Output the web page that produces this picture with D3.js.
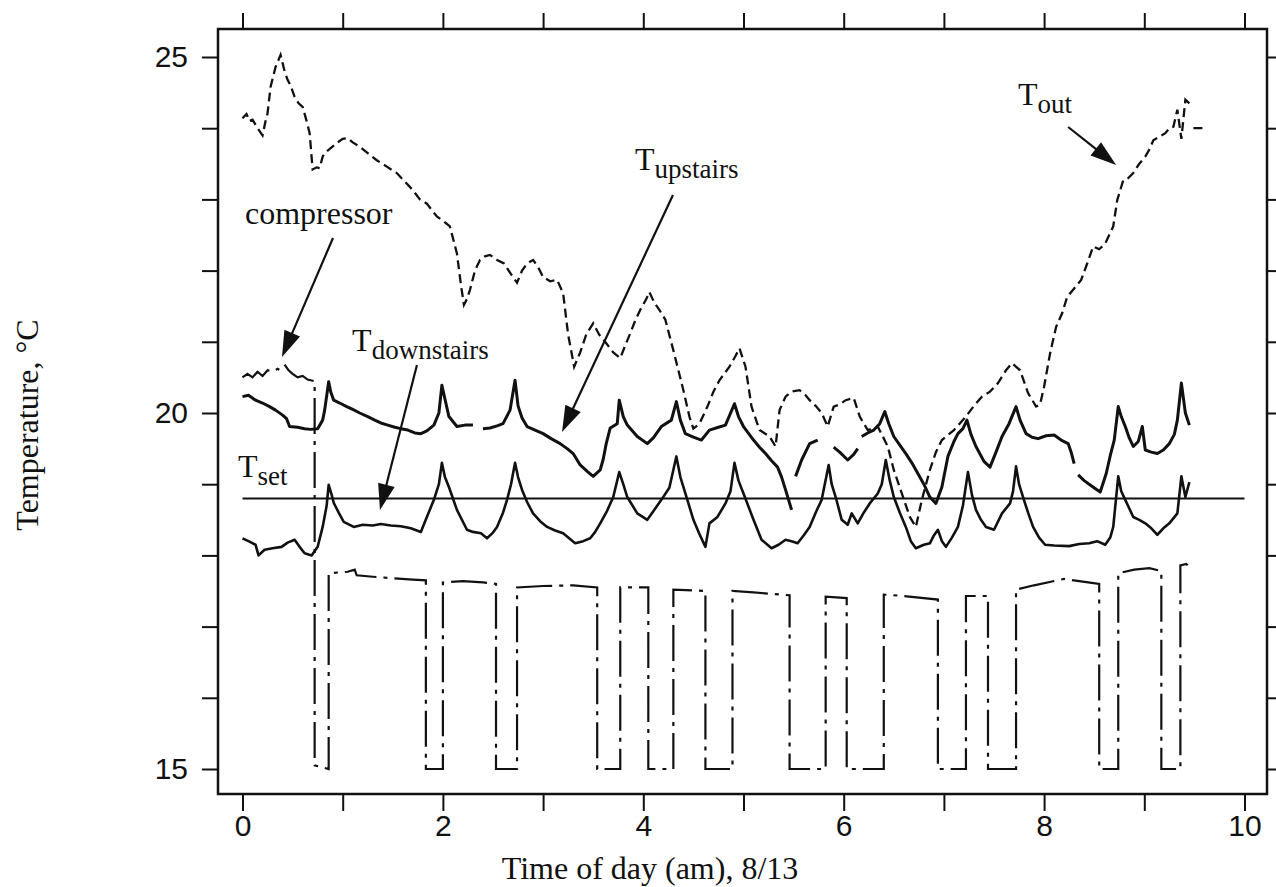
<!DOCTYPE html>
<html><head><meta charset="utf-8">
<script src="https://cdn.jsdelivr.net/npm/d3@7"></script>
<style>
html,body{margin:0;padding:0;background:#fff;}
svg{display:block;}
</style></head>
<body>
<svg id="chart" width="1276" height="887"></svg>
<script>
// ---------- data ----------
const xTicks = [0,1,2,3,4,5,6,7,8,9,10];
const xTickLabels = [0,2,4,6,8,10];
const yTicks = [15,16,17,18,19,20,21,22,23,24,25];
const yTickLabels = [15,20,25];
const tSet = 18.8;

const tOut = [[0.00,24.14],[0.04,24.2],[0.07,24.1],[0.10,24.12],[0.15,24.0],[0.20,23.9],[0.23,24.1],[0.25,24.21],[0.28,24.58],[0.33,24.86],[0.38,25.03],[0.42,24.8],[0.45,24.68],[0.48,24.6],[0.52,24.44],[0.56,24.35],[0.60,24.30],[0.64,24.1],[0.67,23.93],[0.70,23.42],[0.74,23.45],[0.77,23.44],[0.80,23.6],[0.82,23.65],[0.88,23.72],[0.94,23.79],[1.00,23.85],[1.05,23.86],[1.10,23.8],[1.17,23.74],[1.25,23.65],[1.34,23.55],[1.44,23.46],[1.54,23.37],[1.62,23.25],[1.70,23.13],[1.77,23.0],[1.84,22.94],[1.90,22.83],[1.94,22.76],[2.00,22.7],[2.07,22.62],[2.14,22.24],[2.18,21.8],[2.21,21.52],[2.24,21.6],[2.27,21.73],[2.32,22.0],[2.37,22.15],[2.42,22.2],[2.47,22.22],[2.54,22.15],[2.61,22.1],[2.68,21.95],[2.74,21.83],[2.79,22.0],[2.84,22.1],[2.90,22.15],[2.95,22.05],[3.00,21.91],[3.07,21.85],[3.14,21.87],[3.20,21.68],[3.25,21.1],[3.31,20.65],[3.37,20.85],[3.43,21.1],[3.50,21.26],[3.56,21.1],[3.63,20.98],[3.70,20.85],[3.77,20.77],[3.82,20.95],[3.87,21.12],[3.92,21.3],[3.97,21.45],[4.03,21.6],[4.06,21.7],[4.11,21.55],[4.16,21.45],[4.22,21.31],[4.30,20.88],[4.40,20.32],[4.46,19.95],[4.50,19.78],[4.56,19.85],[4.64,20.09],[4.70,20.3],[4.76,20.46],[4.86,20.65],[4.92,20.8],[4.96,20.91],[5.02,20.65],[5.08,20.09],[5.16,19.76],[5.26,19.67],[5.32,19.53],[5.36,20.04],[5.42,20.23],[5.48,20.3],[5.56,20.32],[5.62,20.25],[5.66,20.18],[5.72,20.1],[5.78,20.0],[5.84,19.81],[5.90,20.09],[5.96,20.12],[6.02,20.18],[6.10,20.21],[6.16,19.95],[6.24,19.76],[6.34,19.81],[6.44,19.53],[6.50,19.20],[6.58,18.87],[6.66,18.54],[6.72,18.40],[6.78,18.78],[6.86,19.20],[6.92,19.45],[6.98,19.62],[7.10,19.76],[7.22,19.95],[7.30,20.1],[7.38,20.23],[7.46,20.3],[7.54,20.42],[7.62,20.6],[7.68,20.70],[7.76,20.60],[7.84,20.28],[7.92,20.09],[7.96,20.12],[8.00,20.37],[8.06,20.84],[8.12,21.21],[8.18,21.4],[8.23,21.63],[8.30,21.75],[8.37,21.87],[8.43,22.1],[8.49,22.34],[8.55,22.3],[8.61,22.38],[8.69,22.62],[8.73,22.99],[8.79,23.27],[8.84,23.3],[8.89,23.37],[8.95,23.5],[9.01,23.60],[9.05,23.7],[9.09,23.83],[9.15,23.88],[9.21,23.93],[9.25,24.0],[9.29,24.02],[9.33,24.26],[9.37,23.85],[9.41,24.40],[9.45,24.35],[9.47,null],[9.49,24.0],[9.60,24.0]];

const tUpstairs = [[0.00,20.23],[0.06,20.25],[0.13,20.18],[0.20,20.14],[0.27,20.09],[0.33,20.04],[0.40,19.97],[0.44,19.92],[0.47,19.81],[0.55,19.80],[0.62,19.78],[0.68,19.77],[0.75,19.78],[0.80,19.9],[0.82,20.04],[0.86,20.44],[0.88,20.3],[0.91,20.18],[0.97,20.14],[1.04,20.09],[1.10,20.05],[1.17,20.0],[1.25,19.95],[1.32,19.9],[1.38,19.86],[1.45,19.83],[1.52,19.80],[1.58,19.78],[1.65,19.76],[1.72,19.72],[1.78,19.71],[1.84,19.75],[1.91,19.83],[1.96,20.0],[1.99,20.39],[2.02,20.2],[2.06,19.95],[2.14,19.81],[2.22,19.83],[2.30,19.83],[2.34,null],[2.40,19.78],[2.47,19.79],[2.54,19.82],[2.60,19.85],[2.67,20.04],[2.72,20.46],[2.75,20.1],[2.79,19.93],[2.84,19.81],[2.92,19.76],[3.00,19.71],[3.08,19.64],[3.17,19.57],[3.24,19.5],[3.30,19.43],[3.37,19.27],[3.44,19.18],[3.50,19.11],[3.57,19.20],[3.60,19.35],[3.63,19.57],[3.67,19.79],[3.74,19.85],[3.76,20.18],[3.80,19.95],[3.84,19.83],[3.94,19.67],[4.04,19.57],[4.10,19.65],[4.18,19.81],[4.28,19.9],[4.33,20.16],[4.37,19.9],[4.42,19.71],[4.50,19.66],[4.58,19.62],[4.66,19.76],[4.75,19.8],[4.82,19.83],[4.91,20.13],[4.95,19.95],[5.00,19.81],[5.10,19.62],[5.16,19.52],[5.22,19.43],[5.28,19.33],[5.34,19.24],[5.38,19.1],[5.42,18.92],[5.48,18.64],[5.50,null],[5.52,19.11],[5.58,19.34],[5.66,19.57],[5.74,19.62],[5.78,null],[5.90,19.52],[5.96,19.45],[6.04,19.34],[6.10,19.42],[6.14,19.50],[6.16,null],[6.18,19.67],[6.24,19.72],[6.30,19.76],[6.36,19.85],[6.41,20.02],[6.45,19.85],[6.50,19.67],[6.56,19.55],[6.62,19.43],[6.68,19.3],[6.74,19.15],[6.80,19.0],[6.86,18.82],[6.92,18.73],[6.98,18.96],[7.04,19.39],[7.10,19.6],[7.14,19.71],[7.19,19.78],[7.23,19.90],[7.27,19.7],[7.32,19.53],[7.40,19.32],[7.46,19.24],[7.52,19.45],[7.58,19.67],[7.65,19.85],[7.72,20.09],[7.76,19.9],[7.82,19.71],[7.88,19.66],[7.94,19.64],[8.02,19.68],[8.10,19.69],[8.17,19.62],[8.24,19.57],[8.27,19.45],[8.30,19.29],[8.32,null],[8.34,19.13],[8.40,19.05],[8.46,18.99],[8.52,18.93],[8.56,18.89],[8.62,19.15],[8.66,19.4],[8.70,19.62],[8.74,20.09],[8.77,19.95],[8.81,19.81],[8.85,19.65],[8.89,19.53],[8.94,19.6],[8.98,19.81],[9.01,19.48],[9.07,19.45],[9.13,19.43],[9.19,19.48],[9.25,19.57],[9.30,19.7],[9.33,19.90],[9.37,20.42],[9.41,20.0],[9.45,19.83]];

const tDownstairs = [[0.00,18.24],[0.06,18.2],[0.13,18.15],[0.16,18.0],[0.22,18.08],[0.30,18.1],[0.39,18.12],[0.45,18.18],[0.52,18.22],[0.57,18.12],[0.62,18.03],[0.69,18.0],[0.75,18.12],[0.80,18.4],[0.84,18.7],[0.86,18.99],[0.89,18.85],[0.91,18.74],[0.96,18.6],[1.01,18.47],[1.11,18.40],[1.20,18.43],[1.30,18.42],[1.38,18.44],[1.48,18.42],[1.58,18.41],[1.68,18.38],[1.78,18.33],[1.84,18.54],[1.91,18.78],[1.96,19.0],[1.99,19.30],[2.02,19.1],[2.06,18.96],[2.14,18.64],[2.24,18.36],[2.30,18.33],[2.38,18.31],[2.44,18.24],[2.50,18.32],[2.54,18.40],[2.60,18.6],[2.64,18.78],[2.68,19.0],[2.72,19.30],[2.75,19.1],[2.79,18.92],[2.84,18.75],[2.90,18.59],[2.97,18.48],[3.04,18.40],[3.12,18.35],[3.20,18.31],[3.26,18.24],[3.32,18.17],[3.40,18.2],[3.47,18.24],[3.52,18.33],[3.57,18.45],[3.64,18.63],[3.70,18.82],[3.76,19.17],[3.80,19.0],[3.84,18.82],[3.94,18.59],[4.04,18.5],[4.10,18.62],[4.18,18.78],[4.26,18.95],[4.33,19.39],[4.37,19.1],[4.42,18.87],[4.50,18.50],[4.56,18.3],[4.62,18.12],[4.66,18.45],[4.74,18.54],[4.82,18.73],[4.87,18.9],[4.91,19.30],[4.95,19.05],[5.00,18.87],[5.10,18.50],[5.18,18.22],[5.28,18.10],[5.35,18.15],[5.42,18.22],[5.48,18.2],[5.54,18.17],[5.60,18.28],[5.66,18.40],[5.72,18.6],[5.78,18.78],[5.85,19.27],[5.88,19.0],[5.92,18.82],[5.98,18.50],[6.04,18.43],[6.08,18.59],[6.14,18.45],[6.20,18.6],[6.26,18.73],[6.34,18.87],[6.38,19.0],[6.42,19.34],[6.46,19.05],[6.50,18.82],[6.56,18.6],[6.62,18.40],[6.67,18.2],[6.72,18.10],[6.80,18.15],[6.86,18.17],[6.90,18.28],[6.94,18.36],[6.98,18.2],[7.02,18.12],[7.08,18.25],[7.14,18.40],[7.19,18.7],[7.24,19.17],[7.28,18.85],[7.32,18.64],[7.37,18.5],[7.42,18.40],[7.50,18.36],[7.58,18.59],[7.66,18.73],[7.69,18.9],[7.72,19.25],[7.75,19.0],[7.79,18.82],[7.84,18.6],[7.89,18.40],[7.95,18.25],[8.01,18.15],[8.10,18.14],[8.25,18.13],[8.35,18.16],[8.45,18.17],[8.53,18.2],[8.61,18.15],[8.66,18.25],[8.69,18.40],[8.74,19.11],[8.77,18.9],[8.81,18.78],[8.89,18.54],[8.95,18.5],[9.01,18.45],[9.07,18.38],[9.13,18.29],[9.19,18.38],[9.25,18.45],[9.33,18.59],[9.37,19.11],[9.41,18.82],[9.45,19.03]];

const compressor = [[0.00,20.5],[0.05,20.55],[0.10,20.5],[0.15,20.58],[0.20,20.52],[0.25,20.6],[0.30,20.58],[0.35,20.62],[0.38,20.6],[0.40,null],[0.42,20.68],[0.46,20.6],[0.50,20.55],[0.55,20.5],[0.60,20.52],[0.65,20.47],[0.71,20.45],[0.72,20.45],[0.72,15.05],[0.86,15.0],[0.86,17.75],[0.95,17.76],[1.05,17.77],[1.12,17.8],[1.14,17.72],[1.30,17.7],[1.50,17.68],[1.70,17.66],[1.83,17.65],[1.83,15],[2.0,15],[2.0,17.62],[2.2,17.64],[2.40,17.62],[2.53,17.6],[2.53,15],[2.74,15],[2.74,17.55],[3.0,17.57],[3.3,17.58],[3.54,17.55],[3.54,15],[3.77,15],[3.77,17.55],[4.05,17.55],[4.05,15],[4.30,15],[4.30,17.52],[4.62,17.5],[4.62,15],[4.89,15],[4.89,17.5],[5.1,17.48],[5.46,17.44],[5.46,15],[5.82,15],[5.82,17.42],[6.03,17.4],[6.03,15],[6.40,15],[6.40,17.45],[6.6,17.43],[6.94,17.38],[6.94,15],[7.22,15],[7.22,17.43],[7.44,17.43],[7.44,15],[7.72,15],[7.72,17.52],[7.9,17.58],[8.2,17.67],[8.44,17.62],[8.55,17.6],[8.55,15],[8.74,15],[8.74,17.75],[8.9,17.8],[9.05,17.82],[9.17,17.78],[9.17,15],[9.36,15],[9.36,17.86],[9.42,17.88],[9.47,17.8]];

// annotations in data units: label anchor and arrow tail -> tip
const labels = [
  {main:"compressor", sub:"", t:0.025, v:22.654},
  {main:"T", sub:"downstairs", t:1.094, v:20.87},
  {main:"T", sub:"upstairs", t:3.917, v:23.41},
  {main:"T", sub:"out", t:7.739, v:24.33},
  {main:"T", sub:"set", t:-0.045, v:19.10}
];
const arrows = [
  {from:[0.903,22.458], to:[0.394,20.787]},
  {from:[1.741,20.674], to:[1.372,18.638]},
  {from:[4.296,23.062], to:[3.189,19.733]},
  {from:[8.240,24.017], to:[8.719,23.483]}
];

// ---------- layout ----------
const svg = d3.select("#chart");
const frame = {left:218, right:1267, top:29, bottom:794};
const x = d3.scaleLinear().domain([0,10]).range([242.5,1244.5]);
const y = d3.scaleLinear().domain([15,25]).range([769,57]);
const serif = "'Liberation Serif','Times New Roman',Times,serif";
const sans = "'Liberation Sans',Arial,Helvetica,sans-serif";

svg.append("rect").attr("width",1276).attr("height",887).attr("fill","#fff");

function styleAxis(g){
  g.select(".domain").remove();
  g.selectAll(".tick line").attr("stroke","#111").attr("stroke-width",2);
  g.selectAll(".tick text").attr("font-family",sans).attr("font-size",30).attr("fill","#111");
}

svg.append("g").attr("transform",`translate(${frame.left},0)`)
  .call(d3.axisLeft(y).tickValues(yTicks).tickSize(16).tickPadding(14)
    .tickFormat(d => yTickLabels.includes(d) ? String(d) : ""))
  .call(styleAxis);
svg.append("g").attr("transform",`translate(${frame.right},0)`)
  .call(d3.axisRight(y).tickValues(yTicks).tickSize(12).tickFormat(""))
  .call(styleAxis);
svg.append("g").attr("transform",`translate(0,${frame.bottom})`)
  .call(d3.axisBottom(x).tickValues(xTicks).tickSize(17).tickPadding(4)
    .tickFormat(d => xTickLabels.includes(d) ? String(d) : ""))
  .call(styleAxis);
svg.append("g").attr("transform",`translate(0,${frame.top})`)
  .call(d3.axisTop(x).tickValues(xTicks).tickSize(16).tickFormat(""))
  .call(styleAxis);

svg.append("rect").attr("x",frame.left).attr("y",frame.top)
  .attr("width",frame.right-frame.left).attr("height",frame.bottom-frame.top)
  .attr("fill","none").attr("stroke","#111").attr("stroke-width",2.5);

// axis titles
svg.append("text").attr("x",650).attr("y",879).attr("text-anchor","middle")
  .attr("font-family",serif).attr("font-size",32).attr("fill","#111")
  .text("Time of day (am), 8/13");
svg.append("text").attr("transform","translate(38,425) rotate(-90)").attr("text-anchor","middle")
  .attr("font-family",serif).attr("font-size",32).attr("fill","#111")
  .text("Temperature, °C");

// series
const line = d3.line().defined(d => d[1] != null).x(d => x(d[0])).y(d => y(d[1]));

svg.append("path").datum([[0,tSet],[10,tSet]]).attr("d",line)
  .attr("fill","none").attr("stroke","#111").attr("stroke-width",2);

svg.append("path").datum(compressor).attr("d",line)
  .attr("fill","none").attr("stroke","#111").attr("stroke-width",2.2)
  .attr("stroke-dasharray","36,7,4,7").attr("stroke-linejoin","miter");

svg.append("path").datum(tOut).attr("d",line)
  .attr("fill","none").attr("stroke","#111").attr("stroke-width",2.3)
  .attr("stroke-dasharray","9,5");

svg.append("path").datum(tDownstairs).attr("d",line)
  .attr("fill","none").attr("stroke","#111").attr("stroke-width",2.6).attr("stroke-linejoin","round");

svg.append("path").datum(tUpstairs).attr("d",line)
  .attr("fill","none").attr("stroke","#111").attr("stroke-width",3).attr("stroke-linejoin","round");

// arrows
arrows.forEach(a => {
  const x1 = x(a.from[0]), y1 = y(a.from[1]), x2 = x(a.to[0]), y2 = y(a.to[1]);
  const dx = x2-x1, dy = y2-y1, L = Math.hypot(dx,dy), ux = dx/L, uy = dy/L;
  const hl = 26, hw = 8.5;
  const bx = x2-ux*hl, by = y2-uy*hl;
  svg.append("line").attr("x1",x1).attr("y1",y1).attr("x2",bx+ux*2).attr("y2",by+uy*2)
    .attr("stroke","#111").attr("stroke-width",2.2);
  svg.append("path").attr("d",`M${x2},${y2}L${bx-uy*hw},${by+ux*hw}L${bx+uy*hw},${by-ux*hw}Z`)
    .attr("fill","#111");
});

// labels
labels.forEach(l => {
  const t = svg.append("text").attr("x",x(l.t)).attr("y",y(l.v))
    .attr("font-family",serif).attr("font-size",32).attr("fill","#111");
  t.append("tspan").text(l.main);
  if (l.sub) t.append("tspan").attr("font-size",27).attr("dy",8).text(l.sub);
});
</script>
</body></html>
